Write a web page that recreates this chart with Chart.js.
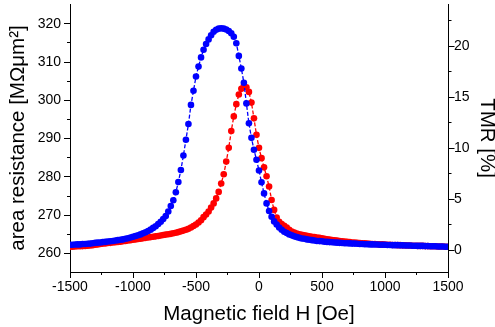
<!DOCTYPE html>
<html>
<head>
<meta charset="utf-8">
<script src="https://cdn.jsdelivr.net/npm/chart.js@4.4.1/dist/chart.umd.min.js"></script>
<style>
    html, body { margin: 0; padding: 0; background: #fff; }
    #wrap { width: 495px; height: 327px; }
</style>
</head>
<body>
<div id="wrap"><canvas id="chart" width="495" height="327"></canvas></div>
<script>
// Applied field (Oe), same sweep points for both curves
const fieldValues = [
    -1500, -1480, -1460, -1440, -1420, -1400, -1380, -1360, -1340, -1320,
    -1300, -1280, -1260, -1240, -1220, -1200, -1180, -1160, -1140, -1120,
    -1100, -1080, -1060, -1040, -1020, -1000, -980, -960, -940, -920,
    -900, -880, -860, -840, -820, -800, -780, -760, -740, -720,
    -700, -680, -660, -640, -620, -600, -580, -560, -540, -520,
    -500, -480, -460, -440, -420, -400, -380, -360, -340, -320,
    -300, -280, -260, -240, -220, -200, -180, -160, -140, -120,
    -100, -80, -60, -40, -20, 0, 20, 40, 60, 80,
    100, 120, 140, 160, 180, 200, 220, 240, 260, 280,
    300, 320, 340, 360, 380, 400, 420, 440, 460, 480,
    500, 520, 540, 560, 580, 600, 620, 640, 660, 680,
    700, 720, 740, 760, 780, 800, 820, 840, 860, 880,
    900, 920, 940, 960, 980, 1000, 1020, 1040, 1060, 1080,
    1100, 1120, 1140, 1160, 1180, 1200, 1220, 1240, 1260, 1280,
    1300, 1320, 1340, 1360, 1380, 1400, 1420, 1440, 1460, 1480,
    1500
];

// Area resistance (MOhm um^2), blue sweep
const blueResistance = [
    262.3, 262.3, 262.35, 262.4, 262.4, 262.5, 262.5, 262.55, 262.6, 262.7,
    262.8, 262.85, 262.9, 263.0, 263.05, 263.15, 263.2, 263.3, 263.4, 263.5,
    263.6, 263.7, 263.85, 264.0, 264.2, 264.4, 264.6, 264.8, 265.0, 265.3,
    265.55, 265.9, 266.25, 266.7, 267.15, 267.7, 268.3, 269.0, 269.8, 271.0,
    272.4, 273.9, 276.0, 278.7, 281.8, 285.6, 289.7, 293.8, 298.8, 302.5,
    306.2, 308.8, 311.2, 313.2, 314.7, 315.9, 317.0, 317.9, 318.4, 318.7,
    318.8, 318.7, 318.5, 318.1, 317.5, 316.6, 314.9, 311.6, 308.3, 304.6,
    299.2, 294.0, 290.2, 287.1, 284.5, 281.7, 278.6, 275.7, 273.1, 271.1,
    269.6, 268.4, 267.6, 266.8, 266.2, 265.7, 265.35, 265.0, 264.75, 264.5,
    264.3, 264.1, 263.95, 263.85, 263.7, 263.6, 263.5, 263.4, 263.3, 263.25,
    263.2, 263.1, 263.05, 263.0, 262.95, 262.9, 262.85, 262.8, 262.75, 262.7,
    262.7, 262.65, 262.6, 262.6, 262.55, 262.5, 262.5, 262.45, 262.45, 262.4,
    262.4, 262.35, 262.35, 262.3, 262.3, 262.3, 262.25, 262.25, 262.2, 262.2,
    262.2, 262.15, 262.15, 262.1, 262.1, 262.1, 262.05, 262.05, 262.0, 262.0,
    262.0, 261.95, 261.95, 261.9, 261.9, 261.9, 261.85, 261.85, 261.85, 261.8,
    261.8
];

// Area resistance (MOhm um^2), red sweep
const redResistance = [
    261.75, 261.8, 261.85, 261.9, 261.9, 261.95, 262.0, 262.05, 262.1, 262.2,
    262.3, 262.4, 262.5, 262.6, 262.65, 262.75, 262.8, 262.9, 262.95, 263.05,
    263.1, 263.2, 263.3, 263.4, 263.5, 263.6, 263.7, 263.8, 263.9, 264.0,
    264.1, 264.2, 264.3, 264.4, 264.5, 264.6, 264.7, 264.85, 264.95, 265.05,
    265.15, 265.3, 265.45, 265.6, 265.8, 266.0, 266.2, 266.45, 266.8, 267.2,
    267.6, 268.1, 268.7, 269.5, 270.2, 271.0, 272.0, 273.1, 274.4, 276.1,
    278.3, 280.7, 284.0, 287.6, 292.0, 295.8, 299.0, 301.5, 303.0, 303.8,
    303.4, 302.2, 299.4, 295.3, 291.0, 287.6, 284.9, 282.5, 280.2, 277.5,
    274.0, 271.4, 269.4, 268.3, 267.7, 267.25, 266.8, 266.2, 265.75, 265.5,
    265.25, 265.05, 264.9, 264.75, 264.65, 264.5, 264.4, 264.3, 264.2, 264.1,
    264.0, 263.85, 263.75, 263.65, 263.55, 263.45, 263.4, 263.3, 263.2, 263.15,
    263.05, 263.0, 262.9, 262.85, 262.8, 262.75, 262.7, 262.65, 262.6, 262.55,
    262.5, 262.5, 262.45, 262.4, 262.4, 262.35, 262.3, 262.3, 262.25, 262.25,
    262.2, 262.2, 262.15, 262.15, 262.1, 262.1, 262.05, 262.05, 262.0, 262.0,
    262.0, 261.95, 261.95, 261.9, 261.9, 261.9, 261.85, 261.85, 261.85, 261.8,
    261.8
];

// Axis ticks
const fieldTicks = [-1500, -1000, -500, 0, 500, 1000, 1500];
const fieldMinorTicks = [-1250, -750, -250, 250, 750, 1250];
const resistanceTicks = [260, 270, 280, 290, 300, 310, 320];
const resistanceMinorTicks = [265, 275, 285, 295, 305, 315];
const tmrTicks = [0, 5, 10, 15, 20];
const tmrMinorTicks = [2.5, 7.5, 12.5, 17.5, 22.5];

const toPoints = (values) => fieldValues.map((h, i) => ({ x: h, y: values[i] }));

// Major / minor tick marks drawn outward from the axis lines
const tickMarks = {
    id: 'tickMarks',
    afterDraw(chart) {
        const { ctx, chartArea } = chart;
        const { x, y, y2 } = chart.scales;
        const snap = (p) => Math.round(p - 0.5) + 0.5;
        ctx.save();
        ctx.strokeStyle = '#000';
        ctx.lineWidth = 1;
        ctx.beginPath();

        const xTick = (v, len) => {
            const px = snap(x.getPixelForValue(v));
            ctx.moveTo(px, chartArea.bottom);
            ctx.lineTo(px, chartArea.bottom + len);
        };
        const leftTick = (v, len) => {
            const py = snap(y.getPixelForValue(v));
            ctx.moveTo(chartArea.left + 0.5, py);
            ctx.lineTo(chartArea.left - len, py);
        };
        const rightTick = (v, len) => {
            const py = snap(y2.getPixelForValue(v));
            ctx.moveTo(chartArea.right, py);
            ctx.lineTo(chartArea.right + 0.5 + len, py);
        };

        fieldTicks.forEach(v => xTick(v, 6));
        fieldMinorTicks.forEach(v => xTick(v, 3));
        resistanceTicks.forEach(v => leftTick(v, 6));
        resistanceMinorTicks.forEach(v => leftTick(v, 3));
        tmrTicks.forEach(v => rightTick(v, 6));
        tmrMinorTicks.forEach(v => rightTick(v, 3));

        ctx.stroke();
        ctx.restore();
    }
};

const tickFont = { family: '"Liberation Sans", Arial, sans-serif', size: 14 };
const titleFont = { family: '"Liberation Sans", Arial, sans-serif', size: 20.5 };

Chart.defaults.color = '#000';

new Chart(document.getElementById('chart'), {
    type: 'scatter',
    data: {
        datasets: [
            {
                label: 'blue',
                data: toPoints(blueResistance),
                showLine: true,
                borderColor: '#0000ff',
                backgroundColor: '#0000ff',
                borderWidth: 1.3,
                borderDash: [4, 2],
                pointRadius: 3.3,
                pointBorderWidth: 0,
                pointBackgroundColor: '#0000ff',
                yAxisID: 'y'
            },
            {
                label: 'red',
                data: toPoints(redResistance),
                showLine: true,
                borderColor: '#ff0000',
                backgroundColor: '#ff0000',
                borderWidth: 1.3,
                borderDash: [4, 2],
                pointRadius: 3.3,
                pointBorderWidth: 0,
                pointBackgroundColor: '#ff0000',
                yAxisID: 'y'
            }
        ]
    },
    options: {
        responsive: false,
        animation: false,
        devicePixelRatio: 1,
        layout: { padding: 0 },
        plugins: {
            legend: { display: false },
            tooltip: { enabled: false }
        },
        scales: {
            x: {
                type: 'linear',
                position: 'bottom',
                min: -1500,
                max: 1500,
                grid: { display: false, drawTicks: false },
                border: { display: true, color: '#000', width: 1 },
                ticks: {
                    font: tickFont,
                    padding: 7,
                    maxRotation: 0,
                    autoSkip: false,
                    callback: (v) => String(v)
                },
                afterBuildTicks: (axis) => {
                    axis.ticks = fieldTicks.map(v => ({ value: v }));
                },
                afterFit: (axis) => {
                    axis.height = 55;
                    axis.paddingLeft = 0;
                    axis.paddingRight = 0;
                },
                title: {
                    display: true,
                    text: 'Magnetic field H [Oe]',
                    font: titleFont,
                    padding: { top: 0, bottom: 0 }
                }
            },
            y: {
                type: 'linear',
                position: 'left',
                min: 255.19,
                max: 325.14,
                grid: { display: false, drawTicks: false },
                border: { display: true, color: '#000', width: 1 },
                ticks: {
                    font: tickFont,
                    padding: 9,
                    autoSkip: false,
                    callback: (v) => String(v)
                },
                afterBuildTicks: (axis) => {
                    axis.ticks = resistanceTicks.map(v => ({ value: v }));
                },
                afterFit: (axis) => {
                    axis.width = 70;
                    axis.paddingTop = 0;
                    axis.paddingBottom = 0;
                },
                title: {
                    display: true,
                    text: 'area resistance [M\u03A9\u03BCm\u00B2]',
                    font: titleFont,
                    padding: { top: 5.6, bottom: 0 }
                }
            },
            y2: {
                type: 'linear',
                position: 'right',
                min: -2.12,
                max: 24.12,
                grid: { display: false, drawTicks: false },
                border: { display: true, color: '#000', width: 1 },
                ticks: {
                    font: tickFont,
                    padding: 6,
                    autoSkip: false,
                    callback: (v) => String(v)
                },
                afterBuildTicks: (axis) => {
                    axis.ticks = tmrTicks.map(v => ({ value: v }));
                },
                afterFit: (axis) => {
                    axis.width = 47;
                    axis.paddingTop = 0;
                    axis.paddingBottom = 0;
                },
                title: {
                    display: true,
                    text: 'TMR [%]',
                    font: { family: titleFont.family, size: 20.5, lineHeight: 0.86 },
                    padding: { top: 0, bottom: 0 }
                }
            }
        }
    },
    plugins: [tickMarks]
});
</script>
</body>
</html>
